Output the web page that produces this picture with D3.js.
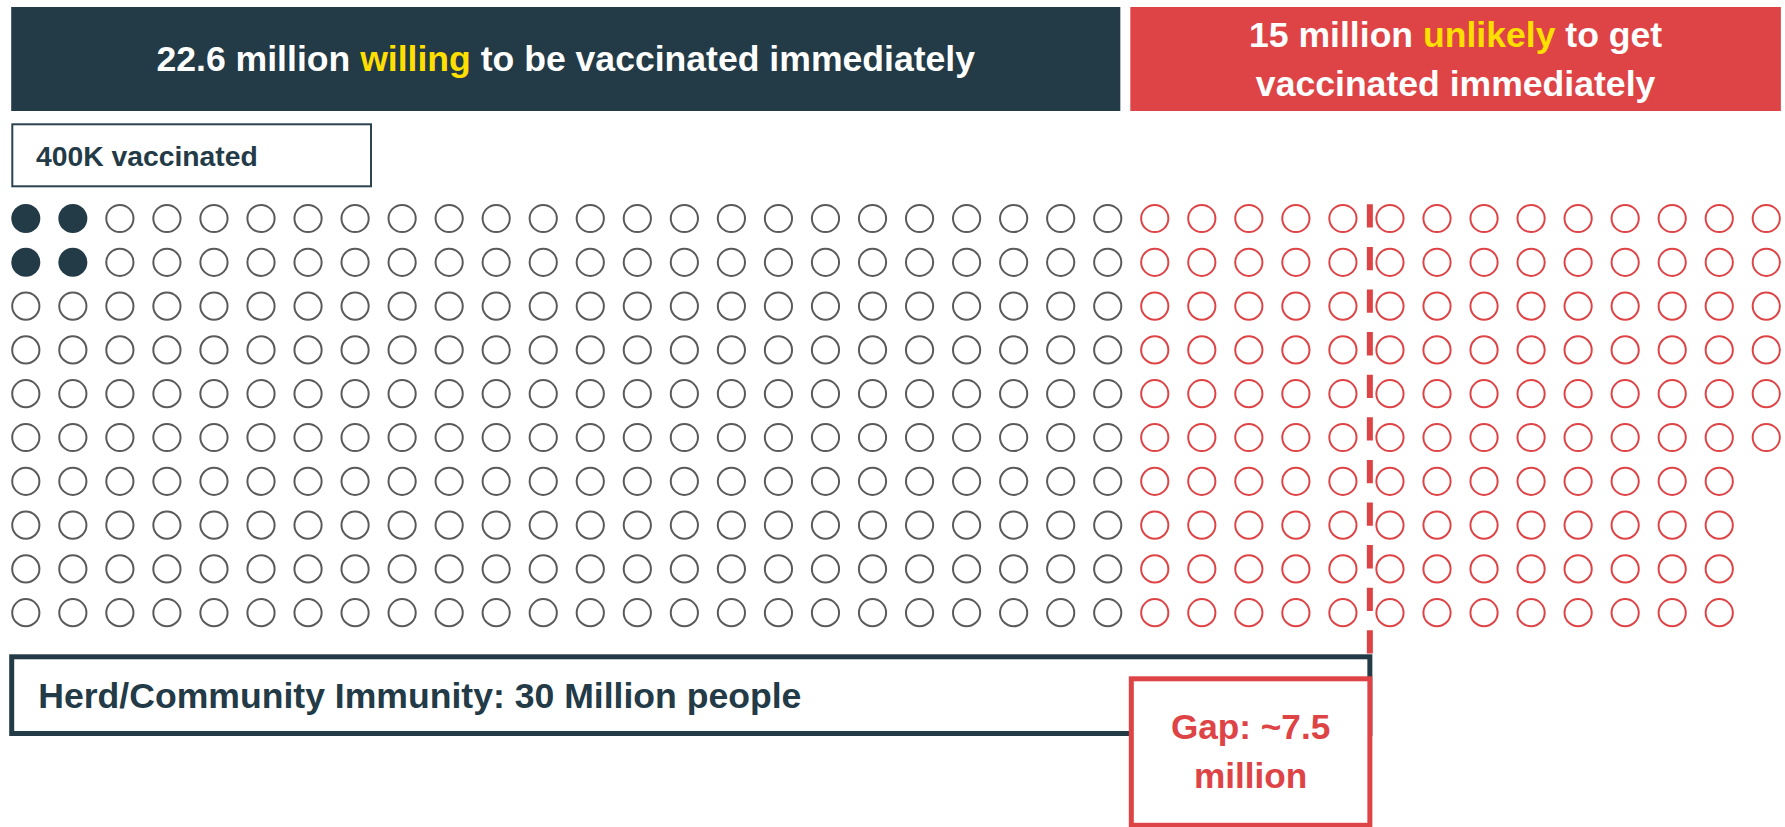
<!DOCTYPE html>
<html>
<head>
<meta charset="utf-8">
<script src="https://cdn.jsdelivr.net/npm/d3@7"></script>
<style>
  html, body { margin: 0; padding: 0; background: #ffffff; }
  svg { display: block; font-family: "Liberation Sans", Arial, Helvetica, sans-serif; font-weight: bold; }
</style>
</head>
<body>
<svg id="chart" width="1785" height="827"></svg>
<script>
// Population groups (in millions) and the circles drawn for each, filled column by column
const groupKeys = ["willing", "unlikely"];
const groupMillions = [22.6, 15];
const groupDots = [240, 136];
const groupColors = ["#233a47", "#de4446"];
const groupStrokes = ["#5a5a5a", "#de4446"];

// Already vaccinated, shown as a filled square block of circles
const vaccinatedLabel = "400K";
const vaccinatedDots = 4;

// Herd immunity threshold and remaining gap
const herdMillions = 30;
const herdColumns = 29;
const gapMillions = 7.5;

const rowsPerColumn = 10;

const navy = "#233a47";
const red = "#de4446";
const yellow = "#ffdf00";
const fontSize = 35.6;

const svg = d3.select("#chart");

const totalDots = d3.sum(groupDots);
const nCols = Math.ceil(totalDots / rowsPerColumn);

// Grid scales: one band per column / row
const x = d3.scaleBand().domain(d3.range(nCols)).range([2.28, 2.28 + 47.04 * nCols]).padding(0);
const y = d3.scaleBand().domain(d3.range(rowsPerColumn)).range([196.6, 196.6 + 43.8 * rowsPerColumn]).padding(0);
const cx = i => x(i) + x.bandwidth() / 2;
const cy = j => y(j) + y.bandwidth() / 2;
const r = 13.6;

// Build dot list
const dots = [];
let k = 0;
groupDots.forEach((n, g) => {
  for (let i = 0; i < n; i++, k++) {
    dots.push({ group: g, col: Math.floor(k / rowsPerColumn), row: k % rowsPerColumn, filled: false });
  }
});
const side = Math.round(Math.sqrt(vaccinatedDots));
for (let i = 0; i < vaccinatedDots; i++) {
  const c = i % side, rr = Math.floor(i / side);
  const d = dots.find(p => p.col === c && p.row === rr);
  if (d) d.filled = true;
}

// Column span for each group
const spans = groupKeys.map((_, g) => {
  const cols = dots.filter(d => d.group === g).map(d => d.col);
  return [d3.min(cols), d3.max(cols)];
});

// Header banners
const bannerTop = 7, bannerBottom = 111, gutter = 10;
const leftEdge = cx(spans[0][0]) - r - 1;
const darkRight = cx(spans[0][1]) + r - 1;
const redLeft = darkRight + gutter;
const redRight = cx(spans[1][1]) + r + 1;

svg.append("rect")
  .attr("x", leftEdge).attr("y", bannerTop)
  .attr("width", darkRight - leftEdge).attr("height", bannerBottom - bannerTop)
  .attr("fill", groupColors[0]);
svg.append("rect")
  .attr("x", redLeft).attr("y", bannerTop)
  .attr("width", redRight - redLeft).attr("height", bannerBottom - bannerTop)
  .attr("fill", groupColors[1]);

const t1 = svg.append("text")
  .attr("x", (leftEdge + darkRight) / 2).attr("y", 71)
  .attr("text-anchor", "middle").attr("font-size", fontSize).attr("fill", "#ffffff");
t1.append("tspan").text(`${groupMillions[0]} million `);
t1.append("tspan").attr("fill", yellow).text(groupKeys[0]);
t1.append("tspan").text(" to be vaccinated immediately");

const redMid = (redLeft + redRight) / 2;
const t2 = svg.append("text")
  .attr("x", redMid).attr("y", 47)
  .attr("text-anchor", "middle").attr("font-size", fontSize).attr("fill", "#ffffff");
t2.append("tspan").text(`${groupMillions[1]} million `);
t2.append("tspan").attr("fill", yellow).text(groupKeys[1]);
t2.append("tspan").text(" to get");
svg.append("text")
  .attr("x", redMid).attr("y", 95.5)
  .attr("text-anchor", "middle").attr("font-size", fontSize).attr("fill", "#ffffff")
  .text("vaccinated immediately");

// Vaccinated label box
svg.append("rect")
  .attr("x", 12.3).attr("y", 124.3).attr("width", 358.7).attr("height", 62)
  .attr("fill", "#ffffff").attr("stroke", "#2c4350").attr("stroke-width", 2);
svg.append("text")
  .attr("x", 36).attr("y", 166.3).attr("font-size", 28.3).attr("fill", navy)
  .text(`${vaccinatedLabel} vaccinated`);

// Circles
svg.append("g").selectAll("circle")
  .data(dots)
  .join("circle")
  .attr("cx", d => cx(d.col))
  .attr("cy", d => cy(d.row))
  .attr("r", d => d.filled ? r + 0.9 : r)
  .attr("fill", d => d.filled ? groupColors[d.group] : "#ffffff")
  .attr("stroke", d => d.filled ? "none" : groupStrokes[d.group])
  .attr("stroke-width", 2);

// Herd immunity threshold line
const herdX = cx(herdColumns) - r - 6.5;
const herdTop = 656.8, herdBottom = 733.5;
svg.append("line")
  .attr("x1", herdX).attr("x2", herdX)
  .attr("y1", cy(0) - 14.2).attr("y2", herdTop)
  .attr("stroke", red).attr("stroke-width", 6)
  .attr("stroke-dasharray", "23.3 19.3");

// Herd immunity box
svg.append("rect")
  .attr("x", 11.7).attr("y", herdTop)
  .attr("width", herdX - 11.7).attr("height", herdBottom - herdTop)
  .attr("fill", "#ffffff").attr("stroke", navy).attr("stroke-width", 5);
svg.append("text")
  .attr("x", 38.3).attr("y", 708.3).attr("font-size", fontSize).attr("fill", navy)
  .text(`Herd/Community Immunity: ${herdMillions} Million people`);

// Gap box
const gapLeft = redLeft + 1;
svg.append("rect")
  .attr("x", gapLeft).attr("y", 678.8)
  .attr("width", herdX - gapLeft).attr("height", 146.5)
  .attr("fill", "#ffffff").attr("stroke", red).attr("stroke-width", 5);
const gapMid = (gapLeft + herdX) / 2;
svg.append("text")
  .attr("x", gapMid).attr("y", 739.3).attr("text-anchor", "middle")
  .attr("font-size", 35.2).attr("fill", red)
  .text(`Gap: ~${gapMillions}`);
svg.append("text")
  .attr("x", gapMid).attr("y", 788).attr("text-anchor", "middle")
  .attr("font-size", 35.2).attr("fill", red)
  .text("million");
</script>
</body>
</html>
